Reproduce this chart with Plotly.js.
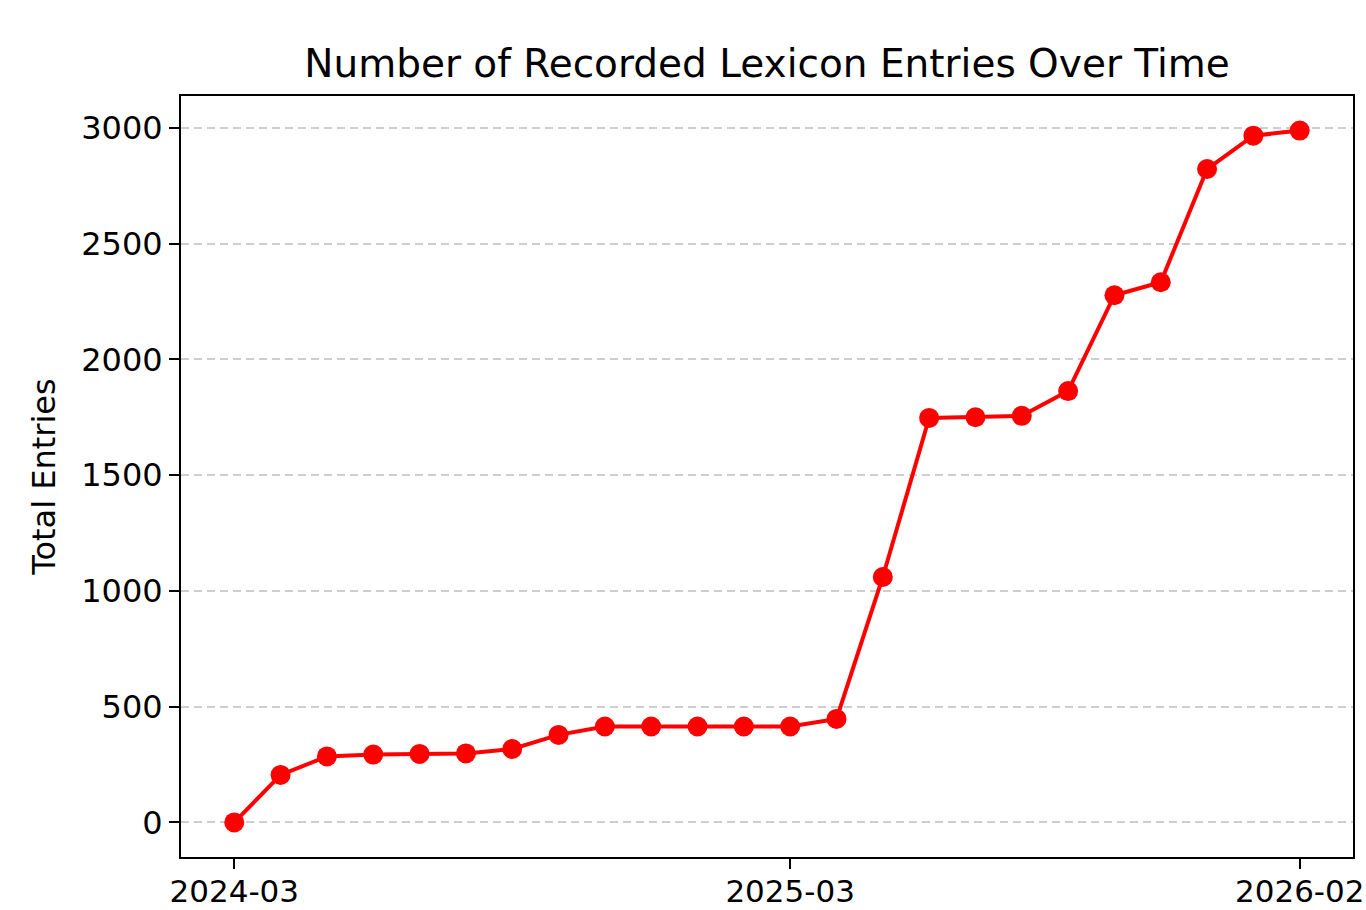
<!DOCTYPE html>
<html>
<head>
<meta charset="utf-8">
<script src="https://cdn.plot.ly/plotly-3.0.1.min.js"></script>
<style>
html,body{margin:0;padding:0;background:#fff;}
#chart{width:1366px;height:910px;}
</style>
</head>
<body>
<div id="chart"></div>
<script>
const months = ["2024-03","2024-04","2024-05","2024-06","2024-07","2024-08","2024-09","2024-10","2024-11","2024-12",
  "2025-01","2025-02","2025-03","2025-04","2025-05","2025-06","2025-07","2025-08","2025-09","2025-10",
  "2025-11","2025-12","2026-01","2026-02"];
const totalEntries = [0,205,285,293,296,298,317,378,414,414,414,414,414,447,1060,1747,1750,1756,1863,2277,2333,2822,2966,2988];
const xTickLabels = ["2024-03","2025-03","2026-02"];
const yTickValues = [0,500,1000,1500,2000,2500,3000];

const font = "DejaVu Sans, sans-serif";
const trace = {
  x: months,
  y: totalEntries,
  type: "scatter",
  mode: "lines+markers",
  line: {color: "#ff0000", width: 4},
  marker: {color: "#ff0000", size: 20},
  hoverinfo: "x+y"
};
const layout = {
  width: 1366, height: 910,
  paper_bgcolor: "#ffffff", plot_bgcolor: "#ffffff",
  margin: {l: 181, r: 13, t: 96, b: 53},
  showlegend: false,
  font: {family: font, color: "#000000", size: 32},
  title: {text: "Number of Recorded Lexicon Entries Over Time", font: {family: font, size: 39, color: "#000"},
          x: 0.5615, xanchor: "center", xref: "container", y: 1 - 63/910, yanchor: "middle", yref: "container"},
  xaxis: {
    type: "category", categoryorder: "array", categoryarray: months,
    range: [-1.15, 24.15], autorange: false,
    tickmode: "array", tickvals: xTickLabels, ticktext: xTickLabels,
    showgrid: false, zeroline: false,
    showline: true, linecolor: "#000", linewidth: 2, mirror: true,
    ticks: "outside", ticklen: 10, tickwidth: 2, tickcolor: "#000",
    ticklabelstandoff: -4,
    tickfont: {family: font, size: 31, color: "#000"}
  },
  yaxis: {
    range: [-149.4, 3137.4], autorange: false,
    tickmode: "array", tickvals: yTickValues,
    showgrid: true, gridcolor: "rgba(190,190,190,0.75)", gridwidth: 2, griddash: "8px,5px",
    zeroline: false,
    showline: true, linecolor: "#000", linewidth: 2, mirror: true,
    ticks: "outside", ticklen: 10, tickwidth: 2, tickcolor: "#000",
    tickfont: {family: font, size: 32, color: "#000"},
    title: {text: "Total Entries", font: {family: font, size: 32, color: "#000"}, standoff: 16}
  }
};
Plotly.newPlot("chart", [trace], layout, {displayModeBar: false, staticPlot: true});
</script>
</body>
</html>
